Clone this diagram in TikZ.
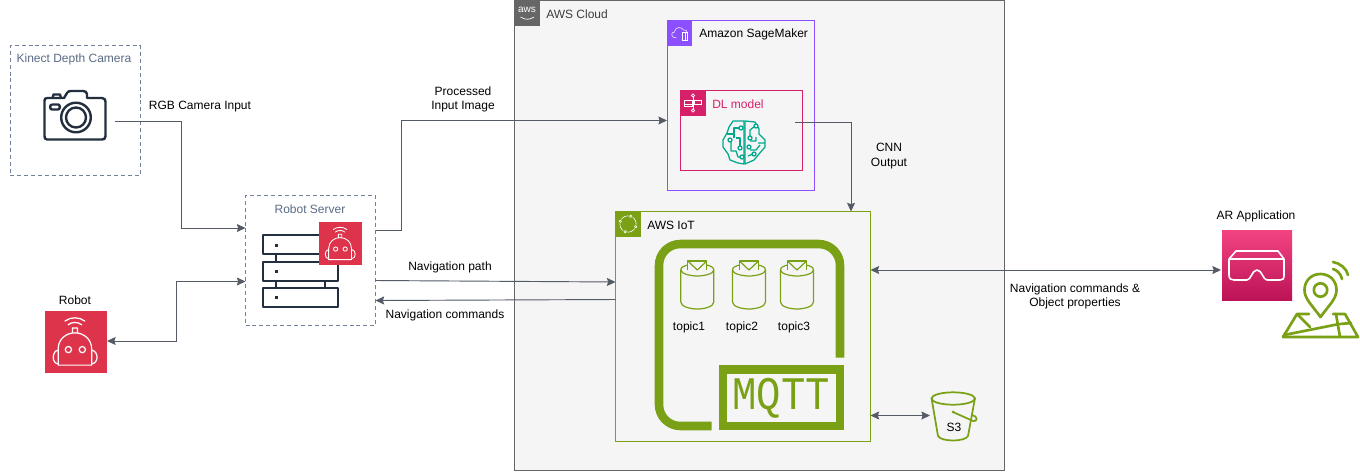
\documentclass[tikz,border=0pt]{standalone}
\usepackage{fontspec}
\setmainfont{Liberation Sans}
\newfontfamily\mqfont{Liberation Mono}
\usetikzlibrary{arrows.meta}
\definecolor{awsgray}{HTML}{666666}
\definecolor{cloudfill}{HTML}{F5F5F5}
\definecolor{smpurple}{HTML}{8C4FFF}
\definecolor{dlpink}{HTML}{D6206A}
\definecolor{iotgreen}{HTML}{7AA116}
\definecolor{dashgray}{HTML}{5A6B86}
\definecolor{inkdark}{HTML}{232F3E}
\definecolor{wire}{HTML}{545B64}
\definecolor{robred}{HTML}{DD344C}
\definecolor{brainteal}{HTML}{01A88D}
\definecolor{arA}{HTML}{F34482}
\definecolor{arB}{HTML}{BC1356}
\tikzset{
  x=0.75pt,y=-0.75pt,
  boxnode/.style={inner sep=0pt,outer sep=0pt,anchor=north west},
  txt/.style={font=\fontsize{9}{11}\selectfont,text=black,inner sep=0pt,align=center},
  dashbox/.style={boxnode,draw=dashgray!85!white,dash pattern=on 3pt off 2.2pt,line width=0.6pt,fill=white},
  grouptitle/.style={font=\fontsize{9}{11}\selectfont,text=dashgray,inner sep=0pt},
  wireline/.style={draw=wire,line width=0.7pt,-{Stealth[length=6.5pt,width=6pt,inset=1pt]}},
  wiretwo/.style={draw=wire,line width=0.7pt,{Stealth[length=6.5pt,width=6pt,inset=1pt]}-{Stealth[length=6.5pt,width=6pt,inset=1pt]}},
  topicline/.style={draw=iotgreen,line width=0.9pt,line join=round},
}
% robot tile: #1 = left x, #2 = top y, #3 = size in px
\newcommand{\robottile}[3]{%
 \begin{scope}[shift={(#1,#2)},x=#3*0.0075pt,y=-#3*0.0075pt]
  \fill[robred] (0,0) rectangle (100,100);
  \draw[white,line width=#3*0.015pt,line cap=round,line join=round]
    (22,88) -- (22,62) .. controls (22,46) and (35,36) .. (49,36) .. controls (63,36) and (76,46) .. (76,62) -- (76,88) -- cycle;
  \draw[white,line width=#3*0.015pt,line cap=round,line join=round]
    (45,36) -- (45,28) -- (53,28) -- (53,36)
    (22,64) .. controls (12,65) and (11,85) .. (22,86)
    (76,64) .. controls (87,65) and (88,85) .. (76,86);
  \draw[white,line width=#3*0.015pt] (38.5,63) circle (5) (61,63) circle (5);
  \draw[white,line width=#3*0.015pt,line cap=round]
    (33,17) .. controls (42,10) and (56,10) .. (65,17)
    (38,23) .. controls (44,18) and (54,18) .. (60,23);
 \end{scope}}
% topic cylinder centred at x=#1, rim y=#2
\newcommand{\topicicon}[2]{%
 \begin{scope}[shift={(#1,#2)}]
  \draw[topicline] (-9.5,0) -- (-9.5,-9) -- (9.5,-9) -- (9.5,0);
  \draw[topicline] (-9.5,-9) -- (0,0) -- (9.5,-9);
  \draw[topicline] (-9.5,-5) .. controls (-13,-4) and (-16.5,-3) .. (-16.5,0) .. controls (-16.5,4) and (-6,6) .. (0,6) .. controls (6,6) and (16.5,4) .. (16.5,0) .. controls (16.5,-3) and (13,-4) .. (9.5,-5);
  \draw[topicline] (-16.5,0) -- (-16.5,32) .. controls (-16.5,37) and (-6,39) .. (0,39) .. controls (6,39) and (16.5,37) .. (16.5,32) -- (16.5,0);
 \end{scope}}
\begin{document}
\begin{tikzpicture}
\useasboundingbox (0,0) rectangle (1360,472);
\fill[white] (0,0) rectangle (1360,472);

% ---- groups
\node[boxnode,draw=awsgray,fill=cloudfill,line width=0.75pt,minimum width=489.5*0.75pt,minimum height=470*0.75pt] (cloud) at (514.5,0.5) {};
\fill[awsgray] (514.5,0.5) rectangle (539.5,25.5);
\node[font=\fontsize{7.5}{8}\selectfont,text=white,inner sep=0pt] (awslogo) at (527,10) {aws};
\draw[white,line width=0.5pt] (520.5,17) .. controls (525,20) and (530,20) .. (534,17);
\node[font=\fontsize{9}{11}\selectfont,text=awsgray!60!black,anchor=west,inner sep=0pt] (cloudt) at (546,14) {AWS Cloud};

\node[dashbox,minimum width=130*0.75pt,minimum height=130*0.75pt] (kinect) at (10,45.5) {};
\node[grouptitle] (kinectt) at (74,59) {Kinect Depth Camera};
\node[dashbox,minimum width=130*0.75pt,minimum height=130*0.75pt] (server) at (245.5,195.5) {};
\node[grouptitle] (servert) at (310,209.5) {Robot Server};

\node[boxnode,draw=smpurple,line width=0.75pt,minimum width=147*0.75pt,minimum height=170*0.75pt] (sm) at (667,20.5) {};
\fill[smpurple] (667,20.5) rectangle (692,45.5);
\begin{scope}[shift={(679.5,33)}]
 \draw[white,line width=0.4pt] (-3,5) .. controls (-9,5) and (-9,-1) .. (-5,-1) .. controls (-5,-6) and (2,-7) .. (4,-3) .. controls (6,-4) and (8,-2) .. (8,0);
 \draw[white,line width=0.4pt] (3,-1) rectangle (8,7);
 \draw[white,line width=0.4pt] (5.5,-1) -- (5.5,7);
\end{scope}
\node[txt,anchor=west] (smt) at (699,34) {Amazon SageMaker};

\node[boxnode,draw=dlpink,line width=0.7pt,minimum width=122*0.75pt,minimum height=80*0.75pt] (dl) at (680.5,90.5) {};
\fill[dlpink] (680.5,90.5) rectangle (705.5,115.5);
\begin{scope}[shift={(693,103)},white,line width=0.45pt]
 \draw (-8.5,-2.5) rectangle (-1,0.8) (1,-2.5) rectangle (8.5,0.8) (-8.5,0.8) rectangle (-1,3.5);
 \draw (0,-9) -- (0,9);
 \fill[dlpink] (0,-7.5) circle (1.6); \draw (0,-7.5) circle (1.6);
 \fill[dlpink] (0,7.5) circle (1.6); \draw (0,7.5) circle (1.6);
\end{scope}
\node[font=\fontsize{9}{11}\selectfont,text=dlpink,anchor=west,inner sep=0pt] (dlt) at (712,104) {DL model};

% brain
\begin{scope}[shift={(744,142)},draw=brainteal,line width=0.95pt,line join=round]
 \draw (0,-21) -- (-11,-21) -- (-15,-15) -- (-17,-9) -- (-21,-2) -- (-21,5) -- (-16,12) -- (-14,18) -- (-6,21) -- (0,22) -- cycle;
 \draw (1,-21) -- (11,-20) -- (15,-13) -- (15,-8) -- (21,-2) -- (21,5) -- (15,12) -- (10,18) -- (1,22) -- cycle;
 \draw (-4,-14) -- (-10,-14) -- (-10,-4) (-17,-8) -- (-10,-8);
 \draw (-13,0) -- (-13,9) -- (-8,9) -- (-6,15) -- (-3,15);
 \draw (-8,-4) -- (-4,-4) -- (-4,4);
 \draw (6,-6) -- (6,-12) -- (11,-16) (6,-1) -- (12,-1) -- (12,-5) (14,1) -- (21,1);
 \draw (6,8) -- (12,8) -- (16,3) (4,14) -- (9,12);
 \foreach \p in {(-3,-14),(-14,-2),(-4,6),(-2,15),(6,-4),(12,-16),(5,5),(10,12)} {\fill[cloudfill] \p circle (2); \draw \p circle (2);}
\end{scope}

\node[boxnode,draw=iotgreen,line width=0.75pt,minimum width=255*0.75pt,minimum height=230*0.75pt] (iot) at (615.5,211.5) {};
\fill[iotgreen] (615.5,211.5) rectangle (640.5,236.5);
\begin{scope}[shift={(628,224)}]
 \draw[white,line width=0.45pt] (0,0) circle (8.2);
 \foreach \a in {20,110,200,290} {\fill[iotgreen] (\a:9) circle (2.6); \draw[white,line width=0.45pt] (\a:8.2) circle (1.2);}
\end{scope}
\node[txt,anchor=west] (iott) at (647,225.5) {AWS IoT};

% MQTT
\draw[iotgreen,line width=6.4pt,rounded corners=16pt] (711.7,426) -- (659,426) -- (659,244) -- (840,244) -- (840,357.7);
\draw[iotgreen,line width=6.4pt] (723,369.5) rectangle (840,426);
\node[inner sep=0pt,text=iotgreen,font=\fontsize{35}{36}\mqfont] (mqtt) at (781,398) {\scalebox{0.87}[1]{MQTT}};

\topicicon{697.3}{270}
\topicicon{749}{270}
\topicicon{797}{270}
\node[txt] (t1) at (689,327.5) {topic1};
\node[txt] (t2) at (742,327.5) {topic2};
\node[txt] (t3) at (794,327.5) {topic3};

% S3
\begin{scope}[iotgreen,line width=1.3pt,line join=round,line cap=round]
 \draw (931.5,398) -- (938,436) .. controls (941,442) and (965,442) .. (968,436) -- (975,398);
 \draw (953.2,398.5) ellipse (21.7 and 6.2);
 \draw (953,412) -- (973,421) .. controls (978,422) and (978,416) .. (972,415);
 \fill (953,412) circle (1.5);
\end{scope}
\node[txt] (s3) at (954,427) {S3};
\coordinate (s3port) at (930,415.5);

% Camera
\begin{scope}[inkdark,line width=1.8pt,line join=round]
 \draw (47,98) -- (64,98) -- (67,93) .. controls (68,91.5) and (69,91) .. (71,91) -- (83,91) .. controls (85,91) and (87,92) .. (87,94) -- (87,98) -- (102,98) .. controls (105,98) and (105.5,100) .. (105.5,102) -- (105.5,136) .. controls (105.5,139) and (104,139.5) .. (102,139.5) -- (47,139.5) .. controls (45,139.5) and (44.5,138) .. (44.5,136) -- (44.5,101) .. controls (44.5,99) and (45,98) .. (47,98);
 \draw (52.5,98) -- (53.5,94.5) -- (60,94.5) -- (61,98);
 \draw (76,117.5) circle (14.8) (76,117.5) circle (10);
 \draw (52,104.5) -- (58,104.5) .. controls (60.5,104.5) and (60.5,109.5) .. (58,109.5) -- (52,109.5) .. controls (49.5,109.5) and (49.5,104.5) .. (52,104.5);
\end{scope}
\coordinate (camport) at (115,121.5);

% Server rack
\begin{scope}[inkdark,line width=2.1pt,line join=round]
 \draw (263,235) rectangle (338,254);
 \draw (263,262) rectangle (338,281);
 \draw (263,288) rectangle (338,307);
 \draw (276,255) -- (276,262) (276,282) -- (276,288) (325,282) -- (325,288);
 \fill (274.5,243.5) rectangle (277.5,246.5);
 \fill (274.5,269.5) rectangle (277.5,272.5);
 \fill (274.5,296) rectangle (277.5,299);
\end{scope}
\robottile{319.3}{222.3}{42.4}

% Robot
\robottile{44.5}{310.5}{62}
\node[txt] (robott) at (75,300) {Robot};
\coordinate (robotport) at (107,341);

% AR
\shade[top color=arA,bottom color=arB] (1222,230) rectangle (1292,300);
\begin{scope}[white,line width=1.2pt,line join=round,line cap=round]
 \draw (1229,259) -- (1229,275) .. controls (1229,279) and (1231,280) .. (1234,280) -- (1247,280) .. controls (1251,280) and (1252,270) .. (1257,270) .. controls (1262,270) and (1263,280) .. (1267,280) -- (1280,280) .. controls (1283,280) and (1284,279) .. (1284,275) -- (1284,259) -- (1278,251) -- (1236,251) -- (1229,259) -- (1284,259);
\end{scope}
\node[txt] (art) at (1256,216.5) {AR Application};
\coordinate (arport) at (1221,270);

% pin and map
\begin{scope}[iotgreen,line width=2pt,line join=round,line cap=round]
 \draw (1320.5,317) .. controls (1312,305) and (1304.5,299) .. (1304.5,290) .. controls (1304.5,281) and (1311,274) .. (1320.5,274) .. controls (1330,274) and (1336.5,281) .. (1336.5,290) .. controls (1336.5,299) and (1329,305) .. (1320.5,317) -- cycle;
 \draw (1320.5,290) circle (6.7);
 \draw (1333,269) .. controls (1337,270) and (1341,274) .. (1342,279);
 \draw (1333,262) .. controls (1340,263) and (1347,269) .. (1348,275);
 \draw (1309,314) -- (1297,314) -- (1283,337) -- (1358,337) -- (1345,314) -- (1333,314);
 \draw (1284,335) -- (1339,324) (1297,314) -- (1310,327) (1336,314) -- (1340,337) (1340,324) -- (1351,323);
\end{scope}

% ---- connectors
\draw[wireline] (camport) -- (181,121.5) -- (181,228) -- (server.west |- 0,228);
\draw[wiretwo] (robotport) -- (176,341) -- (176,281.5) -- (server.west |- 0,281.5);
\draw[wireline] (server.east |- 0,230.5) -- (401,230.5) -- (401,120.5) -- (sm.west |- 0,120.5);
\draw[wireline] (server.east |- 0,280.5) -- (iot.west |- 0,282);
\draw[wireline] (iot.west |- 0,299.5) -- (server.east |- 0,300.5);
\coordinate (dlport) at (795,122.5);
\draw[wireline] (dlport) -- (851,122.5) -- (851,211.5);
\draw[wiretwo] (iot.east |- 0,270) -- (arport);
\draw[wiretwo] (iot.east |- 0,415.5) -- (s3port);

% ---- labels
\node[txt] (lrgb) at (200,106.5) {RGB Camera Input};
\node[txt] (lproc) at (463,99.5) {Processed\\Input Image};
\node[txt] (lnavp) at (450,267) {Navigation path};
\node[txt] (lnavc) at (445,315) {Navigation commands};
\node[txt] (lcnn) at (889,156) {CNN\\Output};
\node[txt] (lnavo) at (1075,296.5) {Navigation commands \&\\Object properties};
\end{tikzpicture}
\end{document}
